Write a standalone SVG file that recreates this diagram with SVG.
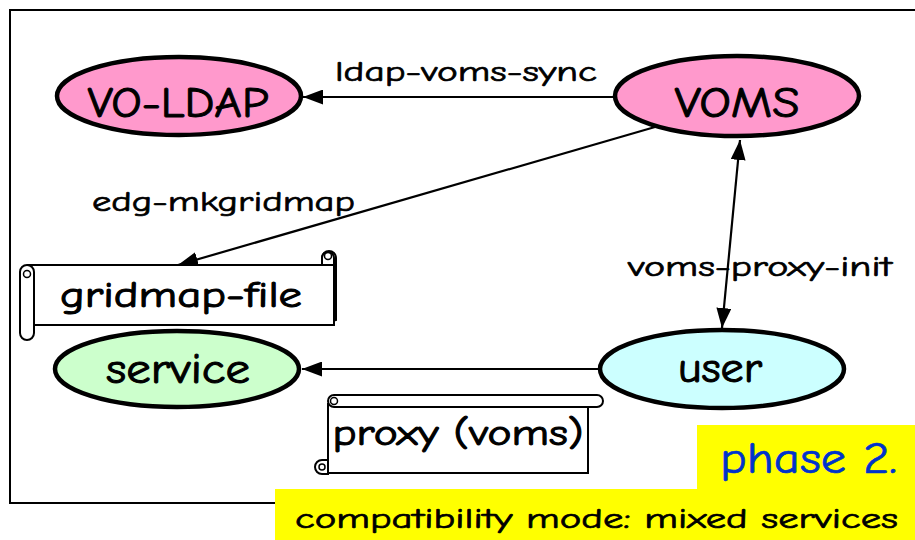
<svg xmlns="http://www.w3.org/2000/svg" width="915" height="540" viewBox="0 0 915 540">
<style>
text{font-family:"Comic Neue","DejaVu Sans","Liberation Sans",sans-serif;fill:#000;stroke:#000;stroke-width:0.7}
.node{stroke:#000;stroke-width:4.5}
.lbl{font-size:29px}
.big{font-size:42px;stroke-width:1}
.scroll{fill:#fff;stroke:#000;stroke-width:2}
.conn{stroke:#000;stroke-width:2.2;fill:none}
</style>
<defs>
<marker id="ah" markerWidth="20" markerHeight="15" refX="20" refY="7.5" orient="auto-start-reverse" markerUnits="userSpaceOnUse" viewBox="0 0 20 15">
<path d="M0,0 L20,7.5 L0,15 z" fill="#000"/>
</marker>
</defs>
<rect x="10" y="10" width="920" height="493" fill="#fff" stroke="#000" stroke-width="2"/>
<g id="connectors">
<line class="conn" x1="615" y1="97" x2="303" y2="97" marker-end="url(#ah)"/>
<line class="conn" x1="655" y1="127" x2="178" y2="265" marker-end="url(#ah)"/>
<line class="conn" x1="740" y1="140" x2="722" y2="328" marker-start="url(#ah)" marker-end="url(#ah)"/>
<line class="conn" x1="600" y1="369" x2="302" y2="369" marker-end="url(#ah)"/>
<text class="lbl" x="466" y="81" text-anchor="middle" textLength="262" lengthAdjust="spacingAndGlyphs">ldap-voms-sync</text>
<text class="lbl" x="92" y="211" textLength="263" lengthAdjust="spacingAndGlyphs">edg-mkgridmap</text>
<text class="lbl" x="628" y="276" textLength="264" lengthAdjust="spacingAndGlyphs">voms-proxy-init</text>
</g>
<g id="node-vo-ldap">
<ellipse class="node" cx="179" cy="96" rx="122" ry="39" fill="#FF99CC"/>
<text class="big" x="178" y="117" text-anchor="middle" textLength="181" lengthAdjust="spacingAndGlyphs">VO-LDAP</text>
</g>
<g id="node-voms">
<ellipse class="node" cx="737" cy="96" rx="122" ry="40" fill="#FF99CC"/>
<text class="big" x="737" y="117" text-anchor="middle" textLength="125" lengthAdjust="spacingAndGlyphs">VOMS</text>
</g>
<g id="node-service">
<ellipse class="node" cx="177" cy="369" rx="122" ry="38" fill="#CCFFCC"/>
<text class="big" x="178" y="383" text-anchor="middle" textLength="144" lengthAdjust="spacingAndGlyphs">service</text>
</g>
<g id="node-user">
<ellipse class="node" cx="722" cy="369" rx="122" ry="39" fill="#CCFFFF"/>
<text class="big" x="720" y="382" text-anchor="middle" textLength="84" lengthAdjust="spacingAndGlyphs">user</text>
</g>
<g id="node-gridmap-file">
<path class="scroll" d="M322,258 a7,7 0 0 1 14,0 L336,320 L322,324 Z"/>
<rect class="scroll" x="28" y="265" width="306" height="60"/>
<path class="scroll" d="M322,258 a6,6 0 0 1 12,0 v7 h-12 z"/>
<circle cx="328" cy="256" r="3.5" fill="none" stroke="#000" stroke-width="1.5"/>
<path class="scroll" d="M20,272 a7,7 0 0 1 14,0 L34,333 a7,7 0 0 1 -14,0 Z"/>
<circle cx="27" cy="274" r="3.5" fill="none" stroke="#000" stroke-width="1.5"/>
<text class="big" x="181" y="307" text-anchor="middle" style="font-size:36px" textLength="242" lengthAdjust="spacingAndGlyphs">gridmap-file</text>
</g>
<g id="node-proxy">
<rect class="scroll" x="328" y="404" width="260" height="69"/>
<path class="scroll" d="M334,395 L597,395 a6,6 0 0 1 0,12 L334,407 a6,6 0 0 1 0,-12 Z"/>
<circle cx="334" cy="401" r="3.5" fill="none" stroke="#000" stroke-width="1.5"/>
<path class="scroll" d="M328,460 L322,460 a7,7 0 0 0 0,14 L328,474 Z"/>
<circle cx="322" cy="467" r="3" fill="none" stroke="#000" stroke-width="1.5"/>
<text class="big" x="458" y="445" text-anchor="middle" style="font-size:36px" textLength="251" lengthAdjust="spacingAndGlyphs">proxy (voms)</text>
</g>
<rect x="697" y="425" width="218" height="66" fill="#FFFF00"/>
<rect x="275" y="489" width="640" height="51" fill="#FFFF00"/>
<text x="720" y="473" style="font-size:44px;fill:#0033CC;stroke:#0033CC" textLength="177" lengthAdjust="spacingAndGlyphs">phase 2.</text>
<text x="295" y="528" style="font-size:29px" textLength="603" lengthAdjust="spacingAndGlyphs">compatibility mode: mixed services</text>
</svg>
